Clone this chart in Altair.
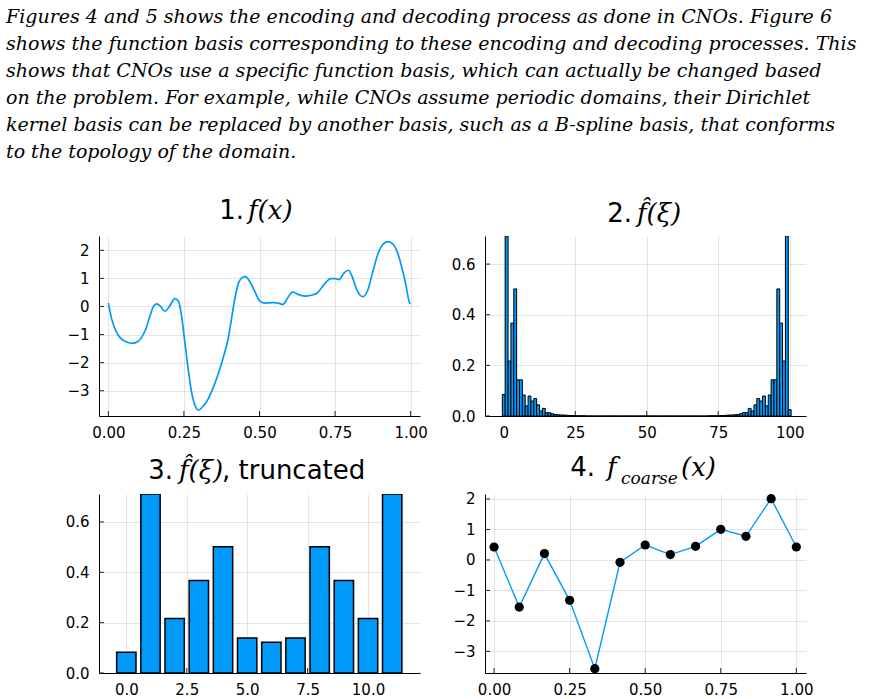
import altair as alt
import pandas as pd

# ---------------------------------------------------------------- text
PARAGRAPH = [
    "Figures 4 and 5 shows the encoding and decoding process as done in CNOs. Figure 6",
    "shows the function basis corresponding to these encoding and decoding processes. This",
    "shows that CNOs use a specific function basis, which can actually be changed based",
    "on the problem. For example, while CNOs assume periodic domains, their Dirichlet",
    "kernel basis can be replaced by another basis, such as a B-spline basis, that conforms",
    "to the topology of the domain.",
]

# ---------------------------------------------------------------- panel 1: f(x)
FX_X = [0.000, 0.011, 0.022, 0.038, 0.055, 0.077, 0.094, 0.110, 0.124, 0.138,
        0.149, 0.160, 0.173, 0.187, 0.202, 0.220, 0.232, 0.242, 0.253, 0.264,
        0.275, 0.286, 0.298, 0.314, 0.331, 0.341, 0.362, 0.379, 0.396, 0.409,
        0.420, 0.431, 0.442, 0.453, 0.467, 0.484, 0.500, 0.517, 0.535, 0.550,
        0.565, 0.577, 0.594, 0.610, 0.627, 0.649, 0.671, 0.692, 0.714, 0.736,
        0.751, 0.764, 0.780, 0.794, 0.806, 0.819, 0.833, 0.843, 0.857, 0.874,
        0.891, 0.907, 0.924, 0.940, 0.957, 0.971, 0.984, 0.997, 1.000]
FX_Y = [0.12, -0.45, -0.80, -1.10, -1.24, -1.31, -1.27, -1.10, -0.80, -0.33,
        0.00, 0.09, 0.00, -0.17, 0.00, 0.28, 0.19, -0.33, -1.27, -2.22,
        -3.04, -3.51, -3.69, -3.55, -3.28, -3.04, -2.45, -1.86, -1.16, -0.33,
        0.37, 0.85, 1.02, 1.06, 0.90, 0.55, 0.20, 0.12, 0.13, 0.14,
        0.11, 0.07, 0.32, 0.52, 0.43, 0.37, 0.40, 0.49, 0.79, 0.99,
        0.99, 0.96, 1.20, 1.29, 1.08, 0.67, 0.40, 0.35, 0.55, 1.20,
        1.85, 2.20, 2.31, 2.24, 1.91, 1.38, 0.79, 0.12, 0.10]

# ---------------------------------------------------------------- panel 2: full spectrum
SPEC_K = list(range(101))
SPEC_MAG = [
    0.085, 0.711, 0.217, 0.367, 0.502, 0.143, 0.143, 0.083, 0.040, 0.079,
    0.059, 0.069, 0.044, 0.020, 0.030, 0.013, 0.013, 0.009, 0.006, 0.005,
    0.004, 0.004, 0.003, 0.002, 0.002, 0.001, 0.001, 0.001, 0.001, 0.000,
    0.000, 0.000, 0.000, 0.000, 0.000, 0.000, 0.000, 0.000, 0.000, 0.000,
    0.000, 0.000, 0.000, 0.000, 0.000, 0.000, 0.000, 0.000, 0.000, 0.000,
    0.000, 0.000, 0.000, 0.000, 0.000, 0.000, 0.000, 0.000, 0.000, 0.000,
    0.000, 0.000, 0.000, 0.000, 0.000, 0.000, 0.000, 0.000, 0.000, 0.000,
    0.000, 0.000, 0.001, 0.001, 0.001, 0.001, 0.002, 0.002, 0.003, 0.004,
    0.004, 0.005, 0.006, 0.009, 0.013, 0.013, 0.030, 0.020, 0.044, 0.069,
    0.059, 0.079, 0.040, 0.083, 0.143, 0.143, 0.502, 0.367, 0.217, 0.711,
    0.025,
]

# ---------------------------------------------------------------- panel 3: truncated spectrum
TRUNC_K = [0, 1, 2, 3, 4, 5, 6, 7, 8, 9, 10, 11]
TRUNC_MAG = [0.082, 0.711, 0.216, 0.367, 0.501, 0.139, 0.122, 0.139, 0.501, 0.367, 0.216, 0.711]

# ---------------------------------------------------------------- panel 4: coarse samples
COARSE_X = [0.0, 0.0833, 0.1667, 0.25, 0.3333, 0.4167, 0.5, 0.5833, 0.6667, 0.75, 0.8333, 0.9167, 1.0]
COARSE_Y = [0.425, -1.545, 0.208, -1.325, -3.567, -0.077, 0.49, 0.175, 0.448, 1.005, 0.776, 2.01, 0.425]

# ---------------------------------------------------------------- style
SANS = "DejaVu Sans"
SERIF = "DejaVu Serif"
BLUE = "#009AFA"
W = 321
H_TOP, H_BOT = 180, 179
TITLE_SIZE = 26
PARA_SIZE = 19
PARA_BASE = -213      # baseline of the first paragraph line, relative to panel 1
PARA_LEAD = 27


def scale(lo, hi):
    return alt.Scale(domain=[lo, hi], nice=False, zero=False, padding=0)


def xaxis(values, fmt):
    return alt.Axis(values=values, format=fmt, title=None, grid=True, ticks=False,
                    tickSize=0, labelPadding=9, labelOverlap=False, labelFlush=False)


def yaxis(values, fmt):
    return alt.Axis(values=values, format=fmt, title=None, grid=True, ticks=False,
                    tickSize=0, labelPadding=10, labelOverlap=False, labelFlush=False)


def label(text, x, y, font=SANS, size=TITLE_SIZE, style="normal", align="left"):
    return alt.Chart(pd.DataFrame({"t": [text]})).mark_text(
        font=font, fontSize=size, fontStyle=style, align=align,
        baseline="alphabetic", color="#000",
    ).encode(text="t:N", x=alt.value(x), y=alt.value(y))


def inner_ticks(xvals, yvals, xenc, yenc, h):
    tx = alt.Chart(pd.DataFrame({"x": xvals})).mark_rule(color="#222", strokeWidth=1).encode(
        x=xenc, y=alt.value(h), y2=alt.value(h - 5))
    ty = alt.Chart(pd.DataFrame({"y": yvals})).mark_rule(color="#222", strokeWidth=1).encode(
        y=yenc, x=alt.value(0), x2=alt.value(5))
    return [tx, ty]


# ---------------------------------------------------------------- panel 1
X1_TICKS = [0, 0.25, 0.5, 0.75, 1.0]
Y1_TICKS = [-3, -2, -1, 0, 1, 2]
x1 = alt.X("x:Q", scale=scale(-0.031, 1.031), axis=xaxis(X1_TICKS, ".2f"))
y1 = alt.Y("y:Q", scale=scale(-3.9, 2.51), axis=yaxis(Y1_TICKS, "d"))
p1_line = alt.Chart(pd.DataFrame({"x": FX_X, "y": FX_Y})).mark_line(
    color=BLUE, strokeWidth=1.7, interpolate="monotone").encode(x=x1, y=y1)
p1_layers = inner_ticks(X1_TICKS, Y1_TICKS, x1, y1, H_TOP) + [
    p1_line,
    label("1.", 145, -17, align="right"),
    label("f(x)", 149, -17, font=SERIF, style="italic"),
]
p1_layers += [label(line, -93, PARA_BASE + i * PARA_LEAD, font=SERIF, size=PARA_SIZE, style="italic")
              for i, line in enumerate(PARAGRAPH)]
p1 = alt.layer(*p1_layers).properties(width=W, height=H_TOP)

# ---------------------------------------------------------------- panel 2
X2_TICKS = [0, 25, 50, 75, 100]
Y2_TICKS = [0.0, 0.2, 0.4, 0.6]
x2 = alt.X("lo:Q", scale=scale(-6.57, 105.7), axis=xaxis(X2_TICKS, "d"))
x2t = alt.X("x:Q", scale=scale(-6.57, 105.7), axis=xaxis(X2_TICKS, "d"))
y2 = alt.Y("y:Q", scale=scale(0, 0.711), axis=yaxis(Y2_TICKS, ".1f"))
p2_bars = alt.Chart(pd.DataFrame({"x": SPEC_K, "y": SPEC_MAG})).transform_calculate(
    lo="datum.x - 0.5", hi="datum.x + 0.5"
).mark_bar(color=BLUE, stroke="#000", strokeWidth=1.0, clip=True).encode(
    x=x2, x2="hi:Q", y=y2, y2=alt.datum(0))
p2 = alt.layer(
    *inner_ticks(X2_TICKS, Y2_TICKS, x2t, y2, H_TOP),
    p2_bars,
    label("2.", 147, -14, align="right"),
    label("f\u0302(\u03be)", 152, -14, font=SERIF, style="italic"),
).properties(width=W, height=H_TOP)

# ---------------------------------------------------------------- panel 3
X3_TICKS = [0, 2.5, 5, 7.5, 10]
x3 = alt.X("lo:Q", scale=scale(-1.13, 12.15), axis=xaxis(X3_TICKS, ".1f"))
x3t = alt.X("x:Q", scale=scale(-1.13, 12.15), axis=xaxis(X3_TICKS, ".1f"))
y3 = alt.Y("y:Q", scale=scale(0, 0.711), axis=yaxis(Y2_TICKS, ".1f"))
p3_bars = alt.Chart(pd.DataFrame({"x": TRUNC_K, "y": TRUNC_MAG})).transform_calculate(
    lo="datum.x - 0.4", hi="datum.x + 0.4"
).mark_bar(color=BLUE, stroke="#000", strokeWidth=1.5, clip=True).encode(
    x=x3, x2="hi:Q", y=y3, y2=alt.datum(0))
p3 = alt.layer(
    *inner_ticks(X3_TICKS, Y2_TICKS, x3t, y3, H_BOT),
    p3_bars,
    label("3.", 74, -15, align="right"),
    label("f\u0302(\u03be)", 80, -15, font=SERIF, style="italic"),
    label(", truncated", 123, -15),
).properties(width=W, height=H_BOT)

# ---------------------------------------------------------------- panel 4
X4_TICKS = [0, 0.25, 0.5, 0.75, 1.0]
Y4_TICKS = [-3, -2, -1, 0, 1, 2]
x4 = alt.X("x:Q", scale=scale(-0.03, 1.032), axis=xaxis(X4_TICKS, ".2f"))
y4 = alt.Y("y:Q", scale=scale(-3.71, 2.164), axis=yaxis(Y4_TICKS, "d"))
coarse = alt.Chart(pd.DataFrame({"x": COARSE_X, "y": COARSE_Y}))
p4 = alt.layer(
    *inner_ticks(X4_TICKS, Y4_TICKS, x4, y4, H_BOT),
    coarse.mark_line(color=BLUE, strokeWidth=1.4).encode(x=x4, y=y4),
    coarse.mark_circle(color="#000", opacity=1, size=85).encode(x=x4, y=y4),
    label("4.", 110, -18, align="right"),
    label("f", 122, -18, font=SERIF, style="italic"),
    label("coarse", 136, -10, font=SERIF, size=17, style="italic"),
    label("(x)", 196, -18, font=SERIF, style="italic"),
).properties(width=W, height=H_BOT)

# ---------------------------------------------------------------- grid of panels
chart = alt.concat(
    p1, p2, p3, p4,
    columns=2,
    spacing={"row": 78, "column": 65},
    bounds="flush",
    padding={"left": 5, "top": 22 - round(0.8 * PARA_SIZE), "right": 0, "bottom": 0},
).configure_view(
    stroke="transparent"
).configure_axis(
    labelFont=SANS, labelFontSize=15, labelColor="#000",
    domainColor="#000", domainWidth=1,
    gridColor="#000", gridOpacity=0.1, gridWidth=1,
)

chart.save("out.html", embed_options={"renderer": "svg", "actions": False})
